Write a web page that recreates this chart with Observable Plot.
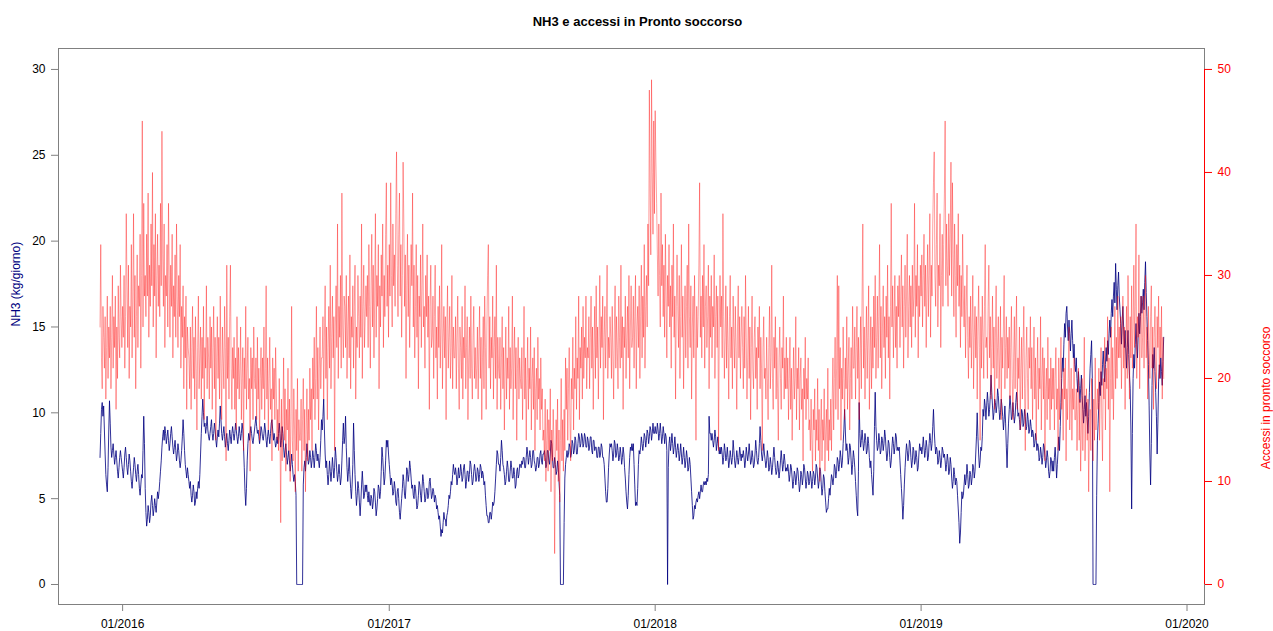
<!DOCTYPE html>
<html>
<head>
<meta charset="utf-8">
<script src="https://cdn.jsdelivr.net/npm/d3@7"></script>
<script src="https://cdn.jsdelivr.net/npm/@observablehq/plot@0.6"></script>
<style>
  html, body { margin: 0; padding: 0; background: #fff; }
  #chart { width: 1273px; height: 631px; }
</style>
</head>
<body>
<div id="chart"></div>
<script>
// Daily values, one array per season (1 December – 30 November), one row per month.
const seasonStarts = ["2015-12-01", "2016-12-01", "2017-12-01", "2018-12-01"];

// NH3 emissions, kg/giorno
const nh3_1516 = [
  7.4, 8.8, 10.2, 10.6, 9.8, 10.4, 9.0, 7.6, 6.4, 5.8, 5.4, 6.8, 9.0, 10.7, 9.4, 8.0, 7.4, 7.8, 8.2, 7.6, 7.0, 7.4, 7.8, 7.2, 6.6, 6.2, 6.8, 7.4, 7.8, 7.4, 7.0,
  6.6, 6.2, 6.8, 7.6, 8.0, 7.4, 6.8, 6.4, 7.0, 7.6, 7.2, 6.6, 6.0, 5.6, 6.2, 6.8, 7.4, 7.0, 6.4, 6.0, 6.6, 7.0, 6.4, 5.6, 5.2, 5.8, 6.4, 6.2, 7.8, 9.8, 8.2,
  5.6, 4.2, 3.4, 3.8, 4.6, 4.2, 3.6, 4.0, 4.8, 5.2, 4.6, 4.0, 4.4, 5.0, 4.6, 4.2, 4.8, 5.4, 5.0, 5.4, 6.0, 6.6, 7.2, 8.0, 8.6, 9.0, 8.4, 9.2, 8.8,
  8.2, 8.6, 9.0, 8.4, 7.8, 8.2, 8.8, 9.2, 8.6, 8.0, 7.6, 8.0, 8.4, 7.8, 7.2, 7.6, 8.2, 7.8, 7.2, 6.8, 7.2, 7.8, 8.6, 9.6, 8.8, 7.8, 7.0, 6.6, 6.2, 6.8, 6.4,
  6.0, 5.6, 6.0, 5.2, 4.8, 5.2, 5.8, 5.4, 4.6, 4.8, 5.4, 5.0, 5.6, 6.0, 5.6, 6.4, 7.6, 8.8, 9.8, 10.8, 10.0, 9.2, 9.4, 8.8, 9.2, 9.8, 9.0, 8.6, 8.4, 8.8,
  9.2, 9.6, 8.8, 8.4, 8.8, 9.4, 9.0, 8.4, 8.0, 8.6, 9.0, 8.6, 9.4, 10.4, 9.6, 8.8, 8.4, 8.8, 9.2, 8.6, 8.0, 8.4, 8.8, 8.2, 7.8, 8.4, 9.0, 8.6, 8.2, 8.8, 9.2,
  8.8, 8.4, 8.8, 9.4, 9.0, 8.6, 8.2, 8.6, 9.2, 8.8, 8.4, 8.8, 9.4, 9.0, 8.0, 6.8, 5.4, 4.6, 5.6, 7.2, 8.2, 8.8, 8.4, 8.8, 9.2, 8.8, 8.4, 8.2, 8.6, 9.0,
  9.4, 9.8, 9.2, 8.8, 9.0, 8.6, 8.2, 8.6, 9.2, 9.0, 8.6, 8.4, 8.8, 9.4, 9.0, 8.4, 8.0, 8.6, 9.0, 8.6, 8.2, 8.8, 9.4, 9.6, 9.0, 8.4, 8.8, 8.4, 8.0, 8.2, 8.6,
  8.2, 8.8, 9.4, 8.8, 8.0, 8.4, 9.2, 8.8, 8.0, 7.4, 7.8, 8.2, 7.6, 7.0, 7.4, 7.8, 7.2, 6.6, 7.0, 7.6, 7.0, 6.4, 6.0, 6.4, 6.0, 5.2, 0, 0, 0, 0, 0,
  0, 0, 0, 0, 5.8, 6.8, 7.2, 6.6, 7.4, 8.2, 7.6, 7.0, 7.2, 7.8, 7.4, 6.8, 7.2, 7.8, 7.4, 6.8, 7.4, 8.2, 7.8, 7.2, 7.6, 7.2, 6.8, 7.4, 8.4, 9.6,
  9.0, 9.8, 10.8, 9.0, 7.6, 6.8, 7.2, 6.4, 5.8, 6.4, 7.2, 6.6, 6.0, 6.6, 7.4, 6.8, 6.2, 6.8, 8.0, 7.4, 6.6, 6.0, 6.4, 7.0, 6.4, 5.8, 6.2, 7.2, 8.4, 9.4, 8.2,
  8.6, 9.8, 8.0, 6.8, 6.0, 6.6, 7.4, 6.4, 5.6, 5.0, 5.8, 7.0, 9.4, 7.8, 6.4, 5.4, 4.6, 5.2, 6.0, 5.6, 4.8, 4.0, 4.8, 5.8, 6.6, 5.8, 5.0, 5.2, 5.8, 5.4
];
const nh3_1617 = [
  5.8, 5.2, 4.8, 5.4, 4.8, 4.6, 5.2, 5.0, 4.4, 4.8, 5.6, 5.4, 4.8, 4.0, 4.4, 5.0, 5.8, 5.6, 5.0, 5.4, 6.6, 8.0, 7.4, 6.6, 5.8, 6.2, 7.2, 8.4, 8.0, 8.4, 7.6,
  7.0, 6.4, 5.8, 6.2, 5.8, 5.2, 5.4, 6.0, 5.6, 4.8, 4.6, 5.4, 5.6, 5.0, 4.2, 3.8, 4.4, 5.0, 5.6, 6.4, 6.0, 5.2, 5.0, 5.8, 6.8, 6.6, 6.0, 6.4, 7.2, 6.8, 6.2,
  5.6, 5.8, 5.2, 5.0, 5.8, 5.6, 5.0, 4.4, 4.6, 5.2, 6.0, 5.8, 5.2, 4.8, 5.6, 6.4, 6.0, 5.4, 4.8, 5.0, 5.6, 5.6, 5.0, 5.2, 6.0, 6.2, 5.6, 5.0,
  5.2, 5.6, 5.4, 4.8, 5.2, 5.0, 4.4, 4.6, 4.2, 3.8, 4.0, 3.4, 2.8, 3.2, 3.0, 3.6, 4.2, 3.8, 3.8, 3.4, 4.0, 4.2, 4.6, 5.2, 5.0, 5.4, 6.0, 5.8, 6.4, 7.0, 6.6,
  6.4, 6.8, 6.4, 5.8, 6.2, 6.8, 6.2, 6.4, 7.0, 6.6, 6.0, 6.2, 6.8, 7.0, 6.4, 5.6, 6.0, 6.6, 6.6, 6.0, 6.4, 7.2, 7.0, 6.4, 5.8, 6.0, 6.6, 7.0, 6.6, 6.0,
  6.2, 6.8, 6.6, 6.0, 6.4, 7.0, 6.8, 6.2, 6.6, 6.4, 5.8, 6.0, 5.2, 4.6, 4.0, 4.0, 3.6, 3.6, 4.2, 4.2, 3.8, 4.2, 4.8, 4.6, 4.8, 5.4, 6.2, 7.0, 7.8, 7.6, 7.0,
  7.0, 6.6, 7.4, 8.4, 7.8, 7.0, 6.8, 6.4, 5.8, 6.0, 6.6, 7.2, 6.8, 6.0, 6.0, 6.6, 7.2, 6.8, 6.2, 6.2, 6.8, 6.4, 5.6, 5.8, 6.6, 6.8, 6.2, 6.4, 7.0, 7.0,
  6.8, 7.2, 7.0, 7.4, 7.4, 6.8, 6.8, 7.4, 8.0, 7.6, 7.0, 7.4, 7.8, 7.4, 6.8, 7.0, 7.8, 7.8, 7.2, 7.0, 6.6, 6.8, 7.4, 7.4, 6.8, 7.0, 7.6, 7.8, 7.2, 7.0, 7.6,
  7.6, 7.8, 7.4, 6.8, 7.0, 7.8, 7.8, 7.2, 7.0, 7.6, 8.4, 8.2, 7.4, 6.8, 6.8, 7.4, 7.0, 6.4, 6.6, 7.2, 6.8, 6.0, 5.2, 0, 0, 0, 0, 0, 3.6, 6.2, 7.0,
  7.4, 7.8, 7.4, 7.6, 8.2, 8.0, 7.4, 7.6, 8.4, 8.2, 7.6, 7.8, 8.6, 8.4, 7.6, 7.6, 8.2, 8.8, 8.6, 8.0, 8.2, 8.8, 8.6, 8.0, 8.2, 8.8, 8.6, 8.0, 8.0, 8.6,
  8.4, 7.8, 8.0, 8.6, 8.6, 7.8, 7.6, 8.4, 8.4, 7.8, 8.0, 8.0, 7.4, 7.4, 8.0, 8.0, 7.4, 7.6, 8.2, 8.0, 7.4, 7.4, 7.0, 6.2, 5.4, 4.8, 4.8, 5.6, 6.8, 7.6, 8.2,
  8.0, 8.2, 7.8, 7.2, 7.6, 8.4, 8.2, 7.4, 7.6, 8.2, 7.8, 7.2, 7.4, 8.0, 7.6, 7.0, 7.4, 8.0, 7.6, 6.8, 6.2, 5.4, 4.8, 4.4, 5.2, 6.4, 7.4, 8.0, 7.8, 8.2
];
const nh3_1718 = [
  7.8, 8.2, 7.0, 5.8, 4.6, 4.8, 4.6, 5.6, 7.0, 7.8, 7.6, 8.0, 8.6, 8.2, 7.8, 8.2, 8.8, 8.6, 8.0, 8.4, 9.0, 8.8, 8.2, 8.6, 9.2, 9.0, 8.4, 8.8, 9.4, 8.8, 8.8,
  9.2, 8.8, 8.8, 9.4, 9.0, 8.4, 8.8, 9.4, 8.8, 8.2, 8.6, 9.2, 8.8, 8.2, 8.8, 8.6, 7.8, 0, 6.8, 8.2, 8.6, 7.8, 8.2, 8.8, 8.2, 7.6, 8.0, 8.6, 8.0, 7.4, 7.8,
  8.2, 7.8, 7.2, 7.6, 8.2, 7.6, 7.0, 7.4, 8.0, 7.4, 6.8, 7.2, 7.8, 7.4, 6.6, 6.8, 7.4, 7.0, 6.2, 5.4, 4.6, 3.8, 4.0, 4.6, 4.4, 4.8, 5.0, 4.8,
  5.2, 5.4, 5.0, 5.4, 5.8, 5.4, 5.4, 5.8, 6.0, 5.8, 6.0, 5.8, 6.2, 6.0, 6.4, 9.8, 8.8, 8.8, 8.4, 8.8, 8.4, 8.0, 8.4, 9.0, 8.6, 7.8, 8.2, 8.6, 8.0, 7.6, 8.0,
  7.6, 8.0, 7.6, 7.0, 7.4, 8.2, 7.8, 7.2, 7.4, 8.0, 7.4, 6.8, 7.2, 7.8, 7.4, 7.0, 7.4, 8.4, 7.8, 7.2, 6.8, 7.2, 7.8, 7.4, 7.0, 7.4, 8.0, 7.6, 7.2, 7.6,
  7.4, 7.8, 7.4, 6.8, 7.2, 8.0, 7.6, 7.2, 7.6, 8.2, 7.6, 7.0, 7.2, 7.8, 7.4, 6.8, 7.0, 7.6, 8.4, 7.8, 7.2, 7.0, 7.4, 8.2, 9.2, 8.4, 7.6, 7.2, 7.6, 8.2, 7.6,
  7.2, 6.8, 7.2, 7.8, 7.4, 6.6, 6.8, 7.4, 7.0, 6.4, 6.8, 7.4, 8.0, 7.4, 6.8, 6.4, 6.6, 7.2, 6.8, 6.2, 6.6, 7.2, 7.8, 7.2, 6.6, 7.0, 7.6, 7.2, 6.6, 6.8,
  6.6, 7.0, 6.6, 6.0, 6.4, 7.0, 6.8, 6.2, 5.6, 6.0, 6.6, 6.4, 5.8, 6.2, 6.8, 6.6, 6.0, 5.4, 5.8, 6.6, 6.4, 5.8, 6.2, 7.0, 6.8, 6.2, 5.6, 6.0, 6.6, 6.4, 5.8,
  6.0, 6.6, 6.2, 5.6, 6.0, 6.6, 6.4, 5.8, 6.2, 7.0, 6.8, 6.2, 5.6, 6.0, 6.8, 6.6, 5.8, 5.2, 5.6, 6.4, 6.2, 5.4, 4.8, 4.2, 4.4, 4.4, 5.0, 5.6, 5.2, 5.8, 6.4,
  6.2, 5.8, 6.2, 7.0, 6.8, 6.2, 6.6, 7.4, 7.2, 6.6, 7.0, 7.8, 7.4, 6.8, 7.2, 8.2, 9.0, 10.2, 9.0, 7.8, 8.2, 7.8, 7.0, 7.4, 8.2, 8.0, 7.2, 6.4, 7.0, 7.8,
  7.4, 6.8, 6.0, 5.2, 4.4, 4.0, 6.6, 10.6, 8.8, 8.0, 8.4, 9.0, 8.4, 7.8, 8.2, 8.8, 8.4, 7.6, 7.8, 8.6, 8.2, 7.4, 6.8, 7.2, 6.4, 5.8, 5.2, 6.6, 9.2, 11.2, 9.2,
  8.4, 7.8, 8.0, 8.8, 8.4, 7.6, 7.8, 8.6, 8.4, 7.8, 8.2, 9.0, 8.6, 7.8, 7.2, 7.6, 8.4, 8.2, 7.4, 6.8, 7.2, 8.0, 8.6, 8.2, 7.6, 8.0, 8.8, 8.6, 7.8, 8.0
];
const nh3_1819 = [
  7.8, 8.0, 7.2, 6.4, 5.6, 4.8, 3.8, 4.6, 5.8, 6.8, 7.6, 8.2, 7.8, 7.2, 7.6, 8.4, 8.2, 7.4, 6.8, 7.2, 8.0, 7.8, 7.0, 7.2, 7.8, 7.4, 6.6, 6.8, 7.6, 8.2, 7.8,
  8.0, 7.6, 8.0, 8.6, 8.0, 7.4, 7.8, 8.4, 8.0, 7.2, 7.4, 8.2, 8.8, 8.4, 7.8, 8.2, 9.2, 10.2, 9.0, 8.2, 7.6, 8.0, 7.8, 7.0, 7.2, 7.8, 7.4, 6.8, 7.2, 8.0, 7.8,
  7.4, 7.6, 7.2, 6.6, 7.0, 7.6, 7.2, 6.4, 6.6, 7.4, 7.0, 6.2, 5.6, 6.0, 6.8, 6.4, 5.8, 6.2, 6.0, 5.2, 4.4, 3.6, 2.4, 3.0, 4.2, 5.4, 5.0, 5.2,
  5.8, 6.4, 5.8, 6.2, 7.0, 6.4, 5.6, 5.8, 6.6, 6.4, 5.8, 6.2, 7.0, 6.8, 6.2, 6.6, 7.6, 8.6, 10.0, 8.6, 7.6, 6.8, 7.2, 8.0, 7.8, 8.6, 10.2, 9.8, 10.8, 10.4, 9.6,
  10.4, 11.2, 10.6, 9.8, 10.2, 11.0, 12.2, 11.2, 10.4, 9.6, 10.0, 10.8, 10.6, 10.0, 10.4, 11.4, 11.0, 10.2, 9.6, 10.0, 10.8, 10.4, 9.8, 9.0, 9.6, 10.4, 9.4, 8.0, 6.8, 8.2,
  9.4, 10.2, 11.0, 10.4, 9.6, 9.8, 10.6, 10.0, 9.4, 9.8, 10.6, 11.2, 10.6, 9.8, 10.0, 9.6, 9.0, 9.4, 10.2, 10.0, 9.2, 9.4, 10.2, 9.8, 9.0, 9.2, 10.0, 9.6, 8.8, 9.0, 9.6,
  9.2, 8.6, 9.0, 8.8, 8.0, 8.2, 8.8, 8.4, 7.8, 8.2, 8.0, 7.2, 7.4, 8.0, 7.6, 7.0, 7.4, 8.2, 8.0, 7.4, 6.8, 7.2, 7.8, 7.4, 6.6, 6.2, 6.6, 7.4, 7.2, 6.6,
  7.2, 6.6, 7.4, 8.0, 7.2, 6.2, 7.0, 7.8, 8.6, 7.8, 9.2, 10.6, 12.0, 13.2, 12.4, 14.0, 15.2, 14.4, 15.8, 16.2, 15.0, 14.2, 15.4, 14.6, 13.6, 14.6, 15.4, 14.2, 13.2, 14.0, 12.8,
  12.4, 13.2, 12.0, 11.2, 12.4, 11.6, 10.6, 11.4, 12.2, 11.0, 10.2, 9.4, 10.2, 11.0, 9.8, 10.6, 9.6, 8.8, 9.8, 11.2, 12.6, 13.4, 14.2, 12.0, 0, 0, 0, 0, 0, 5.2, 8.4,
  9.4, 10.6, 11.8, 11.0, 12.4, 11.6, 12.8, 13.6, 12.6, 11.8, 12.8, 13.8, 13.0, 14.2, 13.4, 14.6, 15.4, 14.4, 15.8, 16.6, 15.6, 16.8, 17.6, 16.4, 18.7, 17.2, 16.0, 17.4, 18.2, 16.8,
  16.0, 15.2, 14.0, 15.4, 16.2, 15.0, 13.8, 14.8, 13.6, 12.6, 13.8, 14.8, 13.4, 12.2, 11.4, 9.0, 4.4, 8.8, 12.0, 13.4, 12.6, 14.0, 15.2, 14.0, 13.2, 14.6, 15.8, 14.6, 15.6, 16.8, 15.8,
  16.4, 17.2, 16.0, 17.6, 18.8, 17.0, 15.6, 14.2, 12.8, 10.4, 7.6, 5.8, 8.2, 11.6, 13.4, 12.6, 13.8, 12.4, 11.2, 9.8, 7.6, 9.4, 11.8, 12.8, 12.0, 13.2, 12.4, 11.6, 13.0, 14.4
];

// Accessi giornalieri in Pronto soccorso
const accessi_1516 = [
  25, 33, 22, 19, 27, 24, 21, 26, 18, 23, 28, 20, 25, 22, 27, 19, 24, 30, 21, 26, 23, 28, 17, 25, 20, 29, 24, 22, 31, 26, 23,
  27, 24, 30, 21, 26, 36, 29, 23, 31, 20, 27, 25, 33, 22, 28, 36, 24, 30, 19, 26, 32, 23, 29, 27, 34, 21, 30, 45, 25, 37, 28,
  30, 26, 34, 28, 38, 24, 31, 27, 35, 29, 40, 25, 33, 28, 36, 22, 30, 34, 27, 31, 26, 37, 29, 44, 32, 27, 35, 23, 30,
  28, 33, 25, 37, 30, 24, 31, 27, 34, 22, 29, 26, 32, 24, 35, 28, 23, 30, 26, 33, 21, 27, 24, 29, 19, 26, 22, 28, 17, 25, 23,
  22, 19, 25, 17, 23, 27, 20, 24, 18, 26, 21, 15, 23, 28, 19, 22, 25, 18, 24, 20, 27, 16, 23, 21, 29, 19, 24, 22, 18, 26,
  21, 25, 17, 23, 27, 19, 24, 14, 22, 26, 20, 24, 18, 28, 21, 16, 25, 22, 19, 27, 23, 12, 31, 20, 24, 18, 26, 31, 21, 17, 23,
  20, 24, 17, 22, 15, 26, 19, 23, 18, 21, 25, 16, 20, 23, 13, 22, 19, 27, 17, 21, 24, 18, 20, 11, 23, 19, 22, 16, 25, 20,
  19, 22, 16, 24, 18, 21, 14, 20, 23, 17, 22, 19, 25, 16, 21, 29, 18, 22, 15, 20, 24, 17, 19, 12, 22, 18, 21, 16, 23, 19, 14,
  17, 13, 20, 15, 6, 18, 12, 16, 22, 14, 19, 11, 17, 15, 21, 13, 18, 10, 16, 27, 14, 12, 19, 15, 9, 17, 13, 20, 11, 16, 14,
  14, 18, 11, 16, 20, 13, 17, 9, 15, 19, 12, 17, 14, 21, 16, 19, 13, 22, 18, 24, 16, 20, 27, 18, 23, 15, 21, 25, 19, 22,
  22, 26, 18, 24, 29, 20, 25, 16, 23, 27, 21, 31, 19, 24, 28, 22, 26, 13, 25, 29, 23, 35, 20, 27, 24, 30, 21, 38, 25, 22, 28,
  27, 23, 30, 20, 25, 28, 22, 32, 19, 26, 24, 29, 21, 27, 31, 18, 25, 23, 30, 26, 22, 28, 24, 35, 20, 27, 31, 23, 26, 29
];
const accessi_1617 = [
  26, 30, 23, 33, 27, 21, 29, 34, 25, 31, 22, 28, 36, 24, 30, 27, 33, 19, 29, 25, 32, 28, 35, 23, 30, 26, 34, 39, 27, 31, 24,
  33, 28, 39, 30, 25, 35, 29, 32, 27, 36, 42, 31, 26, 34, 38, 28, 33, 24, 30, 41, 35, 27, 32, 20, 29, 34, 26, 31, 23, 28, 33,
  29, 38, 25, 31, 22, 27, 33, 24, 30, 19, 28, 26, 32, 23, 29, 35, 25, 27, 21, 30, 26, 32, 24, 28, 17, 27, 31, 23,
  24, 28, 20, 26, 31, 22, 25, 18, 27, 23, 29, 21, 25, 33, 19, 24, 27, 22, 26, 16, 25, 29, 21, 24, 27, 20, 23, 30, 19, 25, 22,
  22, 26, 19, 24, 28, 21, 17, 25, 23, 20, 27, 18, 24, 22, 29, 19, 23, 26, 16, 22, 25, 20, 28, 21, 18, 24, 27, 20, 23, 19,
  21, 25, 18, 23, 27, 20, 24, 16, 22, 26, 19, 28, 23, 17, 25, 30, 33, 21, 26, 19, 24, 22, 28, 18, 23, 26, 20, 31, 17, 24, 21,
  20, 24, 17, 22, 26, 19, 23, 15, 21, 25, 18, 22, 20, 27, 17, 23, 19, 21, 28, 16, 22, 25, 19, 23, 14, 21, 24, 18, 22, 20,
  19, 23, 16, 21, 27, 18, 22, 14, 20, 24, 17, 21, 19, 25, 15, 20, 22, 17, 23, 13, 19, 21, 16, 24, 18, 20, 15, 22, 17, 19, 14,
  15, 12, 18, 10, 14, 17, 11, 16, 13, 19, 9, 15, 12, 17, 14, 3, 11, 16, 13, 18, 10, 15, 8, 14, 20, 12, 16, 11, 17, 13, 22,
  17, 21, 14, 19, 23, 16, 12, 20, 18, 24, 15, 21, 19, 26, 17, 22, 20, 28, 16, 23, 21, 25, 18, 27, 20, 24, 22, 28, 19, 23,
  22, 26, 19, 24, 28, 21, 25, 17, 23, 27, 20, 29, 22, 25, 18, 24, 30, 21, 26, 23, 28, 16, 24, 27, 21, 25, 31, 20, 24, 22, 26,
  24, 20, 27, 22, 18, 25, 29, 21, 26, 23, 19, 28, 24, 21, 31, 22, 26, 17, 25, 23, 28, 20, 24, 27, 22, 30, 19, 25, 29, 23
];
const accessi_1718 = [
  24, 28, 21, 26, 30, 19, 25, 27, 23, 29, 20, 26, 31, 22, 28, 24, 33, 21, 27, 30, 25, 35, 29, 48, 38, 32, 49, 40, 34, 45, 36,
  46, 41, 37, 32, 28, 35, 30, 25, 38, 29, 33, 26, 31, 24, 34, 28, 22, 30, 27, 33, 25, 29, 21, 31, 26, 35, 24, 28, 18, 27, 32,
  27, 23, 30, 20, 26, 33, 24, 28, 19, 25, 29, 22, 27, 31, 21, 35, 26, 23, 29, 18, 25, 28, 22, 30, 24, 14, 27, 23,
  26, 31, 39, 24, 28, 22, 30, 25, 33, 21, 27, 29, 23, 26, 31, 19, 28, 24, 30, 22, 27, 25, 32, 20, 26, 29, 23, 28, 13, 25, 30,
  25, 28, 22, 36, 26, 20, 24, 29, 21, 27, 23, 18, 26, 30, 22, 25, 19, 28, 24, 21, 27, 23, 17, 25, 29, 22, 26, 20, 24, 27,
  23, 19, 26, 21, 30, 24, 18, 22, 27, 20, 25, 16, 23, 28, 21, 19, 24, 26, 20, 23, 17, 25, 22, 27, 19, 24, 21, 13, 23, 26, 20,
  21, 18, 24, 20, 16, 23, 27, 19, 22, 31, 20, 17, 24, 21, 26, 18, 23, 19, 14, 22, 25, 20, 17, 23, 21, 28, 18, 22, 19, 24,
  19, 22, 16, 20, 24, 17, 21, 14, 19, 23, 18, 20, 26, 16, 21, 19, 23, 15, 20, 22, 17, 19, 12, 21, 18, 24, 16, 20, 18, 22, 15,
  16, 13, 18, 14, 11, 17, 15, 19, 12, 16, 14, 20, 13, 17, 10, 15, 18, 12, 16, 14, 19, 11, 15, 17, 13, 21, 12, 16, 14, 18, 13,
  18, 22, 15, 20, 24, 17, 21, 30, 16, 29, 19, 23, 14, 21, 18, 25, 20, 16, 22, 19, 26, 17, 21, 24, 15, 20, 23, 18, 27, 21,
  21, 25, 18, 23, 27, 20, 24, 16, 22, 26, 19, 28, 35, 21, 25, 18, 23, 27, 20, 24, 29, 17, 22, 26, 19, 25, 21, 28, 23, 30, 20,
  24, 28, 21, 26, 33, 22, 27, 19, 25, 29, 23, 26, 20, 28, 24, 31, 22, 26, 18, 27, 37, 25, 29, 22, 26, 30, 23, 27, 21, 29
];
const accessi_1819 = [
  26, 30, 23, 28, 32, 25, 29, 21, 27, 31, 24, 28, 34, 22, 27, 30, 25, 29, 23, 31, 26, 28, 37, 24, 30, 27, 33, 22, 29, 26, 31,
  28, 32, 25, 30, 34, 27, 31, 23, 29, 33, 26, 30, 36, 24, 31, 28, 35, 39, 42, 30, 27, 33, 38, 25, 31, 29, 36, 23, 30, 34, 27,
  33, 38, 45, 29, 35, 31, 27, 36, 30, 34, 41, 28, 39, 32, 26, 35, 30, 24, 33, 29, 36, 27, 31, 23, 30, 26, 34, 28,
  25, 29, 22, 27, 31, 24, 20, 26, 23, 28, 21, 25, 30, 19, 24, 27, 22, 26, 18, 25, 29, 23, 14, 26, 21, 28, 24, 20, 27, 33, 23,
  24, 20, 27, 31, 22, 26, 18, 23, 28, 21, 25, 17, 24, 29, 20, 23, 26, 19, 22, 27, 16, 24, 21, 25, 30, 19, 23, 26, 20, 24,
  21, 25, 18, 23, 27, 20, 16, 22, 26, 19, 24, 28, 17, 22, 20, 25, 15, 21, 24, 18, 23, 27, 19, 13, 22, 25, 20, 17, 23, 21, 26,
  19, 23, 16, 21, 25, 18, 22, 14, 20, 24, 17, 21, 19, 26, 15, 20, 23, 18, 22, 12, 19, 21, 16, 24, 18, 20, 15, 22, 17, 21,
  18, 21, 15, 20, 23, 17, 19, 13, 22, 16, 20, 24, 17, 19, 14, 21, 18, 22, 12, 19, 16, 20, 25, 15, 18, 21, 14, 19, 17, 22, 16,
  16, 19, 13, 17, 21, 14, 18, 11, 15, 20, 13, 17, 24, 12, 16, 19, 14, 18, 9, 15, 17, 13, 20, 16, 12, 18, 14, 22, 15, 17, 19,
  17, 21, 14, 19, 23, 16, 12, 20, 18, 24, 15, 21, 19, 26, 17, 22, 9, 20, 25, 18, 23, 16, 21, 27, 19, 24, 20, 28, 22, 25,
  22, 26, 19, 24, 28, 21, 25, 17, 23, 27, 20, 30, 24, 18, 26, 22, 29, 21, 25, 31, 23, 27, 35, 20, 26, 24, 32, 19, 25, 28, 22,
  24, 28, 21, 26, 30, 22, 25, 18, 27, 23, 20, 26, 29, 21, 25, 17, 24, 27, 22, 19, 26, 23, 28, 20, 25, 22, 27, 18, 24, 20
];

// Axis ticks
const xTicks = ["2016-01-01", "2017-01-01", "2018-01-01", "2019-01-01", "2020-01-01"];
const leftTicks = [0, 5, 10, 15, 20, 25, 30];
const rightTicks = [0, 10, 20, 30, 40, 50];

const title = "NH3 e accessi in Pronto soccorso";
const leftLabel = "NH3 (kg/giorno)";
const rightLabel = "Accessi in pronto soccorso";

// Build dated rows from the seasonal arrays
const utc = s => new Date(s + "T00:00:00Z");
function toRows(seasons) {
  return seasons.flatMap((vals, s) => {
    const start = utc(seasonStarts[s]);
    return vals.map((v, i) => ({date: d3.utcDay.offset(start, i), value: v}));
  });
}
const nh3Rows = toRows([nh3_1516, nh3_1617, nh3_1718, nh3_1819]);
const accRows = toRows([accessi_1516, accessi_1617, accessi_1718, accessi_1819]);

// The right-hand axis (0–50 accessi) shares the plot height with the left one (0–30 kg)
const accToLeft = d3.scaleLinear([0, 50], [0, 30]);

const font = "'Liberation Sans', Arial, sans-serif";
const axisGray = "#808080";

const chart = Plot.plot({
  width: 1273,
  height: 631,
  marginLeft: 58,
  marginRight: 69,
  marginTop: 48,
  marginBottom: 27,
  style: {fontFamily: font, fontSize: "12px", background: "#fff", color: "#000"},
  x: {type: "utc", domain: [utc("2015-10-05"), utc("2020-01-25")]},
  y: {domain: [-1.165, 31.22]},
  marks: [
    Plot.frame({stroke: axisGray}),
    Plot.line(nh3Rows, {x: "date", y: "value", stroke: "#000080", strokeWidth: 0.9, strokeOpacity: 0.9}),
    Plot.line(accRows, {x: "date", y: d => accToLeft(d.value), stroke: "#ff0000", strokeWidth: 0.9, strokeOpacity: 0.42}),
    // right axis line in red, from first to last tick
    Plot.ruleX([utc("2020-01-25")], {y1: accToLeft(0), y2: accToLeft(50), stroke: "#ff0000"}),
    Plot.axisX(xTicks.map(utc), {
      anchor: "bottom", tickSize: 7, tickPadding: 8, stroke: axisGray, fill: "#000",
      tickFormat: d3.utcFormat("%m/%Y"), label: null, fontSize: 12
    }),
    Plot.axisY(leftTicks, {
      anchor: "left", tickSize: 7, tickPadding: 6, stroke: axisGray, fill: "#000",
      label: null, fontSize: 12
    }),
    Plot.axisY(rightTicks.map(accToLeft), {
      anchor: "right", tickSize: 7, tickPadding: 6, stroke: "#ff0000", fill: "#ff0000",
      tickFormat: d => Math.round(accToLeft.invert(d)), label: null, fontSize: 12
    }),
    Plot.text([title], {text: d => d, frameAnchor: "top", dy: -32, dx: 6, fontWeight: "bold", fontSize: 13, fill: "#000"}),
    Plot.text([leftLabel], {text: d => d, frameAnchor: "left", dx: -42, rotate: -90, fontSize: 12, fill: "#000080"}),
    Plot.text([rightLabel], {text: d => d, frameAnchor: "right", dx: 62, rotate: -90, fontSize: 12, fill: "#ff0000"})
  ]
});
document.getElementById("chart").append(chart);
</script>
</body>
</html>
